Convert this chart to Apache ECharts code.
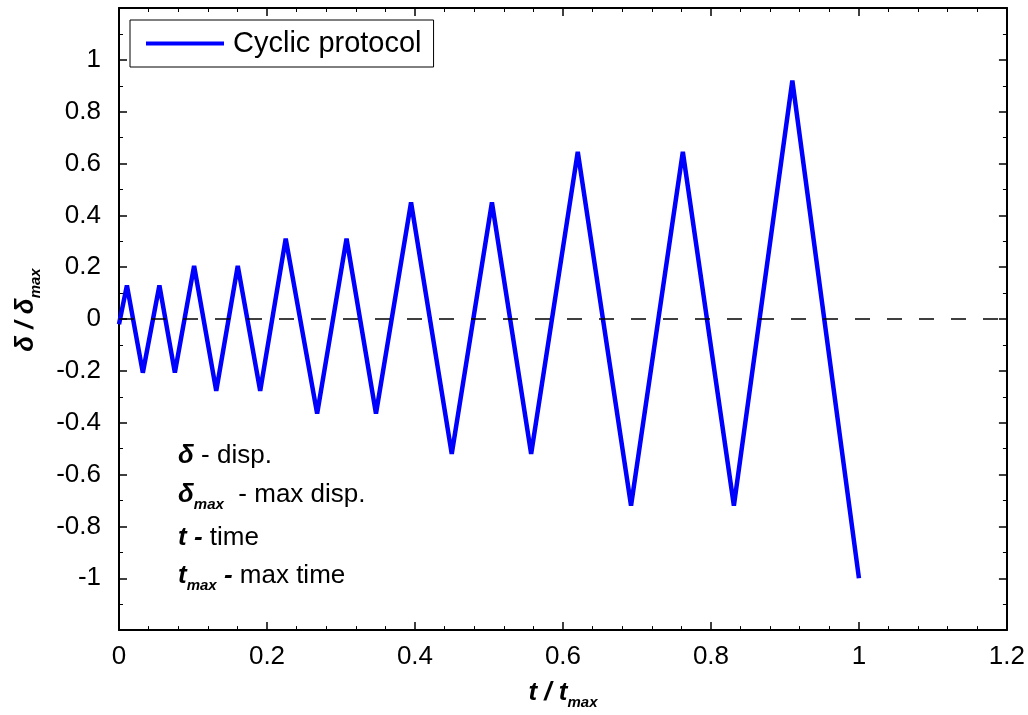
<!DOCTYPE html>
<html>
<head>
<meta charset="utf-8">
<script src="https://cdn.jsdelivr.net/npm/echarts@6/dist/echarts.min.js"></script>
<style>
html,body{margin:0;padding:0;background:#fff;}
#chart{width:1028px;height:715px;}
</style>
</head>
<body>
<div id="chart"></div>
<script>
// normalized time t / t_max
var tValues = [0, 0.0107, 0.0322, 0.0546, 0.0755, 0.1015, 0.1314, 0.1605, 0.1908, 0.2253, 0.2678, 0.3075, 0.3473, 0.3947, 0.4497, 0.504, 0.557, 0.620, 0.692, 0.762, 0.831, 0.910, 1.0];
// normalized displacement delta / delta_max
var dispValues = [-0.02, 0.13, -0.207, 0.13, -0.207, 0.205, -0.277, 0.205, -0.277, 0.31, -0.365, 0.31, -0.365, 0.45, -0.52, 0.45, -0.52, 0.645, -0.72, 0.645, -0.72, 0.92, -1.0];
var xTickLabels = ['0', '0.2', '0.4', '0.6', '0.8', '1', '1.2'];
var yTickLabels = ['-1', '-0.8', '-0.6', '-0.4', '-0.2', '0', '0.2', '0.4', '0.6', '0.8', '1'];
var seriesName = 'Cyclic protocol';

var FONT = '"Liberation Sans", Arial, Helvetica, sans-serif';
var data = tValues.map(function (t, i) { return [t, dispValues[i]]; });

function fmtY(v) {
  var s = String(Math.round(v * 10) / 10);
  return yTickLabels.indexOf(s) >= 0 ? s : '';
}
function fmtX(v) {
  var s = String(Math.round(v * 10) / 10);
  return xTickLabels.indexOf(s) >= 0 ? s : '';
}

var subRich = {
  b: { fontFamily: FONT, fontSize: 26, fontWeight: 'bold', fontStyle: 'italic', color: '#000', lineHeight: 30, verticalAlign: 'top' },
  n: { fontFamily: FONT, fontSize: 26, color: '#000', lineHeight: 30, verticalAlign: 'top' },
  s: { fontFamily: FONT, fontSize: 15, fontWeight: 'bold', fontStyle: 'italic', color: '#000', lineHeight: 16, padding: [20, 0, 0, 0], verticalAlign: 'bottom' }
};

var axisLineStyle = { show: true, onZero: false, lineStyle: { color: '#000', width: 2 } };
var tickStyle = { show: true, inside: true, length: 8, lineStyle: { color: '#000', width: 1.5 } };

var chart = echarts.init(document.getElementById('chart'));
chart.setOption({
  animation: false,
  backgroundColor: '#fff',
  grid: { left: 117, right: 14, top: 8, bottom: 81, containLabel: false },
  legend: {
    left: 130, top: 20,
    padding: [9, 12, 9, 16],
    borderColor: '#000', borderWidth: 1, borderRadius: 0,
    backgroundColor: '#fff',
    icon: 'rect', itemWidth: 78, itemHeight: 4,
    textStyle: { fontFamily: FONT, fontSize: 29, color: '#000', padding: [0, 0, 0, 4] },
    data: [seriesName]
  },
  xAxis: [{
    type: 'value', min: 0, max: 1.2, interval: 0.2,
    axisLine: axisLineStyle, axisTick: tickStyle,
    minorTick: { show: true, splitNumber: 5, length: 4, lineStyle: { color: '#000', width: 1 } },
    splitLine: { show: false },
    axisLabel: { formatter: fmtX, fontFamily: FONT, fontSize: 26, color: '#000', margin: 14 },
    name: '{b|t / t}{s|max}',
    nameLocation: 'middle', nameGap: 40,
    nameTextStyle: { rich: subRich }
  }, {
    type: 'value', min: 0, max: 1.2, interval: 0.2, position: 'top',
    axisLine: axisLineStyle, axisTick: tickStyle,
    minorTick: { show: true, splitNumber: 5, length: 4, lineStyle: { color: '#000', width: 1 } },
    splitLine: { show: false }, axisLabel: { show: false }
  }],
  yAxis: [{
    type: 'value', min: -1.2, max: 1.2, interval: 0.2,
    axisLine: axisLineStyle, axisTick: tickStyle,
    minorTick: { show: true, splitNumber: 2, length: 4, lineStyle: { color: '#000', width: 1 } },
    splitLine: { show: false },
    axisLabel: { formatter: fmtY, fontFamily: FONT, fontSize: 26, color: '#000', margin: 18 },
    name: '{b|δ / δ}{s|max}',
    nameLocation: 'middle', nameGap: 76,
    nameTextStyle: { rich: subRich, padding: [0, 0, 0, 18] }
  }, {
    type: 'value', min: -1.2, max: 1.2, interval: 0.2, position: 'right',
    axisLine: axisLineStyle, axisTick: tickStyle,
    minorTick: { show: true, splitNumber: 2, length: 4, lineStyle: { color: '#000', width: 1 } },
    splitLine: { show: false }, axisLabel: { show: false }
  }],
  graphic: [
    { type: 'text', left: 178, top: 443, style: { text: '{b|δ}{n| - disp.}', rich: subRich } },
    { type: 'text', left: 178, top: 477, style: { text: '{b|δ}{s|max}{n|  - max disp.}', rich: subRich } },
    { type: 'text', left: 178, top: 525, style: { text: '{b|t -}{n| time}', rich: subRich } },
    { type: 'text', left: 178, top: 558, style: { text: '{b|t}{s|max}{b| -}{n| max time}', rich: subRich } }
  ],
  series: [{
    name: seriesName,
    type: 'line',
    data: data,
    showSymbol: false, symbol: 'none',
    lineStyle: { color: '#0000ff', width: 4.5 },
    itemStyle: { color: '#0000ff' },
    z: 3,
    markLine: {
      silent: true, symbol: 'none', label: { show: false },
      lineStyle: { color: '#000', type: [15, 17], width: 1.5 },
      data: [{ yAxis: 0 }]
    }
  }]
});
</script>
</body>
</html>
